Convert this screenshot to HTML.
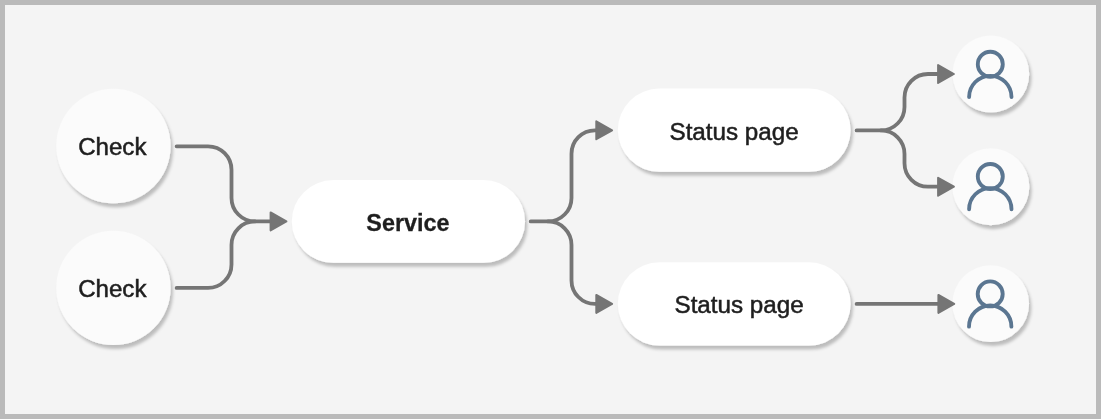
<!DOCTYPE html>
<html>
<head>
<meta charset="utf-8">
<style>
html,body{margin:0;padding:0;width:1101px;height:419px;overflow:hidden;background:#f4f4f4;}
svg{display:block;position:absolute;left:0;top:0;}
text{font-family:"Liberation Sans",sans-serif;fill:#1c1c1c;}
</style>
</head>
<body>
<svg width="1101" height="419" viewBox="0 0 1101 419">
  <defs>
    <filter id="sh" x="-20%" y="-20%" width="140%" height="140%">
      <feDropShadow dx="2.3" dy="4" stdDeviation="1.5" flood-color="#000" flood-opacity="0.225"/>
    </filter>
  </defs>
  <!-- background + border -->
  <rect x="0" y="0" width="1101" height="419" fill="#bababa"/>
  <rect x="5" y="5" width="1091" height="409" fill="#f4f4f4"/>

  <!-- connectors -->
  <g fill="none" stroke="#757575" stroke-width="3.8" stroke-linecap="round" stroke-linejoin="round">
    <!-- checks to service -->
    <path d="M176.6 146.3 H208 A23.5 23.5 0 0 1 231.5 169.8 V197.9 A23.5 23.5 0 0 0 255 221.4 H272"/>
    <path d="M176.6 287.9 H208 A23.5 23.5 0 0 0 231.5 264.4 V244.9 A23.5 23.5 0 0 1 255 221.4"/>
    <!-- service to status pages -->
    <path d="M530.7 221.4 H548 A23.5 23.5 0 0 0 571.5 197.9 V153.8 A23.5 23.5 0 0 1 595 130.3 H598"/>
    <path d="M548 221.4 A23.5 23.5 0 0 1 571.5 244.9 V280.4 A23.5 23.5 0 0 0 595 303.9 H598"/>
    <!-- status 1 to users -->
    <path d="M856.6 130.4 H881 A23.5 23.5 0 0 0 904.5 106.9 V97.5 A23.5 23.5 0 0 1 928 74 H940"/>
    <path d="M881 130.4 A23.5 23.5 0 0 1 904.5 153.9 V163.2 A23.5 23.5 0 0 0 928 186.7 H940"/>
    <!-- status 2 to user -->
    <path d="M856.6 303.9 H940"/>
  </g>

  <!-- nodes -->
  <g filter="url(#sh)">
    <circle cx="113.4" cy="146.05" r="57.2" fill="#fbfbfb"/>
    <circle cx="113.4" cy="287.9" r="57.2" fill="#fbfbfb"/>
    <rect x="291.8" y="180" width="233.2" height="82.8" rx="41.4" fill="#ffffff"/>
    <rect x="617.8" y="88.5" width="232.8" height="83.3" rx="41.65" fill="#ffffff"/>
    <rect x="617.8" y="262.25" width="232.8" height="83.3" rx="41.65" fill="#ffffff"/>
    <circle cx="990.85" cy="73.95" r="38.35" fill="#fbfbfb"/>
    <circle cx="990.85" cy="186.75" r="38.5" fill="#fbfbfb"/>
    <circle cx="990.7" cy="303.7" r="38.35" fill="#fbfbfb"/>
  </g>

  <!-- arrowheads (on top of nodes) -->
  <g fill="#757575" stroke="#757575" stroke-width="2" stroke-linejoin="round">
    <path d="M270.60 212.45 L286.40 221.40 L270.60 230.35 Z"/>
    <path d="M596.30 121.35 L612.10 130.30 L596.30 139.25 Z"/>
    <path d="M596.30 294.95 L612.10 303.90 L596.30 312.85 Z"/>
    <path d="M938.10 65.05 L953.90 74.00 L938.10 82.95 Z"/>
    <path d="M938.10 177.75 L953.90 186.70 L938.10 195.65 Z"/>
    <path d="M938.40 294.95 L954.20 303.90 L938.40 312.85 Z"/>
  </g>

  <!-- user icons -->
  <g fill="none" stroke="#5b7691" stroke-width="3.85" stroke-linecap="round">
    <g transform="translate(990.3,74.1)">
      <circle cx="0" cy="-9.85" r="12.5"/>
      <path d="M-21.2 22.9 A21.2 21.2 0 0 1 21.2 22.9"/>
    </g>
    <g transform="translate(990.3,186.35)">
      <circle cx="0" cy="-9.85" r="12.5"/>
      <path d="M-21.2 22.9 A21.2 21.2 0 0 1 21.2 22.9"/>
    </g>
    <g transform="translate(990.2,303.8)">
      <circle cx="0" cy="-9.85" r="12.5"/>
      <path d="M-21.2 22.9 A21.2 21.2 0 0 1 21.2 22.9"/>
    </g>
  </g>

  <!-- labels -->
  <g opacity="0.99" stroke="#1c1c1c" stroke-width="0.5">
  <text x="112.3" y="155.2" font-size="23" text-anchor="middle" textLength="68.3" lengthAdjust="spacingAndGlyphs">Check</text>
  <text x="112.3" y="296.5" font-size="23" text-anchor="middle" textLength="68.3" lengthAdjust="spacingAndGlyphs">Check</text>
  <text x="407.9" y="230.6" font-size="23.7" font-weight="bold" text-anchor="middle" stroke-width="0.3" textLength="83.2" lengthAdjust="spacingAndGlyphs">Service</text>
  <text x="734.1" y="139.6" font-size="23" text-anchor="middle" textLength="129.2" lengthAdjust="spacingAndGlyphs">Status page</text>
  <text x="739.1" y="313.4" font-size="23" text-anchor="middle" textLength="129.2" lengthAdjust="spacingAndGlyphs">Status page</text>
  </g>
</svg>
</body>
</html>
